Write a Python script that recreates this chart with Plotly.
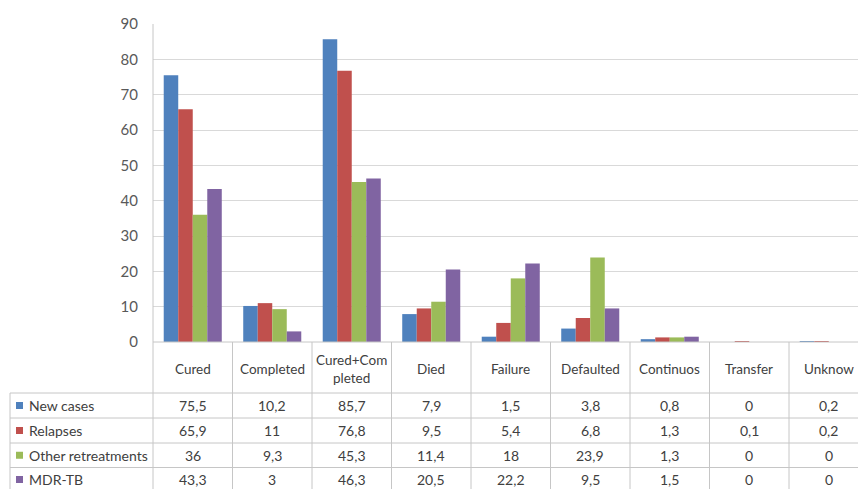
import plotly.graph_objects as go

# Treatment outcome categories and series values (%)
categories = ["Cured", "Completed", "Cured+Com<br>pleted", "Died", "Failure",
              "Defaulted", "Continuos", "Transfer", "Unknow"]
series_names = ["New cases", "Relapses", "Other retreatments", "MDR-TB"]
new_cases = [75.5, 10.2, 85.7, 7.9, 1.5, 3.8, 0.8, 0, 0.2]
relapses = [65.9, 11, 76.8, 9.5, 5.4, 6.8, 1.3, 0.1, 0.2]
other_retreatments = [36, 9.3, 45.3, 11.4, 18, 23.9, 1.3, 0, 0]
mdr_tb = [43.3, 3, 46.3, 20.5, 22.2, 9.5, 1.5, 0, 0]
y_ticks = [0, 10, 20, 30, 40, 50, 60, 70, 80, 90]

colors = ["#4F81BD", "#C0504D", "#9BBB59", "#8064A2"]
all_series = [new_cases, relapses, other_retreatments, mdr_tb]

W, H = 858, 489
M_L, M_R, M_T, M_B = 153, 0, 24, 147
plot_w = W - M_L - M_R
plot_h = H - M_T - M_B
col_px = 79.5
x_range = [-0.5, -0.5 + plot_w / col_px]

FONT = "Lato"
GRID = "#D9D9D9"
LINE = "#C6C6C6"
TXT = "#404040"

fig = go.Figure()
xs = list(range(len(categories)))
for name, vals, col in zip(series_names, all_series, colors):
    fig.add_trace(go.Bar(x=xs, y=vals, name=name, marker_color=col,
                         marker_line_width=0, showlegend=False))


def px_to_px(px):
    return (px - M_L) / plot_w


def py_to_py(py):
    return (M_T + plot_h - py) / plot_h


def xd_to_paper(xd):
    return (xd - x_range[0]) / (x_range[1] - x_range[0])


shapes = []
annotations = []

# table geometry (pixel rows below the axis)
axis_py = M_T + plot_h
header_bottom = 393
row_edges = [393, 418, 443, 467.5, 492]
legend_left = 10

# vertical column lines (including the value axis line)
for i in range(len(categories) + 1):
    xp = xd_to_paper(-0.5 + i)
    y_top = 1 if i == 0 else py_to_py(axis_py)
    shapes.append(dict(type="line", xref="paper", yref="paper",
                       x0=xp, x1=xp, y0=y_top, y1=py_to_py(H + 5),
                       line=dict(color=LINE, width=1)))
# legend column left edge
shapes.append(dict(type="line", xref="paper", yref="paper",
                   x0=px_to_px(legend_left), x1=px_to_px(legend_left),
                   y0=py_to_py(header_bottom), y1=py_to_py(H + 5),
                   line=dict(color=LINE, width=1)))
# horizontal row lines
for py in row_edges[:-1]:
    shapes.append(dict(type="line", xref="paper", yref="paper",
                       x0=px_to_px(legend_left), x1=1.02,
                       y0=py_to_py(py), y1=py_to_py(py),
                       line=dict(color=LINE, width=1)))
# axis baseline
shapes.append(dict(type="line", xref="paper", yref="paper",
                   x0=0, x1=1.02, y0=0, y1=0,
                   line=dict(color=LINE, width=1)))

# category header labels
for i, cat in enumerate(categories):
    annotations.append(dict(xref="paper", yref="paper",
                            x=xd_to_paper(i), y=py_to_py((axis_py + header_bottom) / 2 + 1),
                            text=cat, showarrow=False,
                            font=dict(family=FONT, size=13.5, color=TXT),
                            xanchor="center", yanchor="middle"))

# data rows with legend keys
for r, (name, vals, col) in enumerate(zip(series_names, all_series, colors)):
    yc = (row_edges[r] + row_edges[r + 1]) / 2
    if r == 3:
        yc = row_edges[r] + 12
    shapes.append(dict(type="rect", xref="paper", yref="paper",
                       x0=px_to_px(16), x1=px_to_px(23),
                       y0=py_to_py(yc - 3.5), y1=py_to_py(yc + 3.5),
                       fillcolor=col, line=dict(width=0)))
    annotations.append(dict(xref="paper", yref="paper",
                            x=px_to_px(27), y=py_to_py(yc),
                            text=name, showarrow=False,
                            font=dict(family=FONT, size=14, color=TXT),
                            xanchor="left", yanchor="middle"))
    for i, v in enumerate(vals):
        label = f"{v:g}".replace(".", ",")
        annotations.append(dict(xref="paper", yref="paper",
                                x=xd_to_paper(i), y=py_to_py(yc),
                                text=label, showarrow=False,
                                font=dict(family=FONT, size=14, color=TXT),
                                xanchor="center", yanchor="middle"))

fig.update_layout(
    width=W, height=H,
    margin=dict(l=M_L, r=M_R, t=M_T, b=M_B, pad=0),
    paper_bgcolor="white", plot_bgcolor="white",
    barmode="group", bargap=0.27, bargroupgap=0,
    shapes=shapes, annotations=annotations,
    xaxis=dict(range=x_range, showticklabels=False, showgrid=False,
               zeroline=False, showline=False, ticks=""),
    yaxis=dict(range=[0, 90], tickvals=y_ticks, showgrid=True,
               gridcolor=GRID, gridwidth=1, zeroline=False,
               showline=False, ticks="", ticklabelstandoff=14,
               tickfont=dict(family=FONT, size=15, color="#595959")),
)

fig.write_html("out.html")
